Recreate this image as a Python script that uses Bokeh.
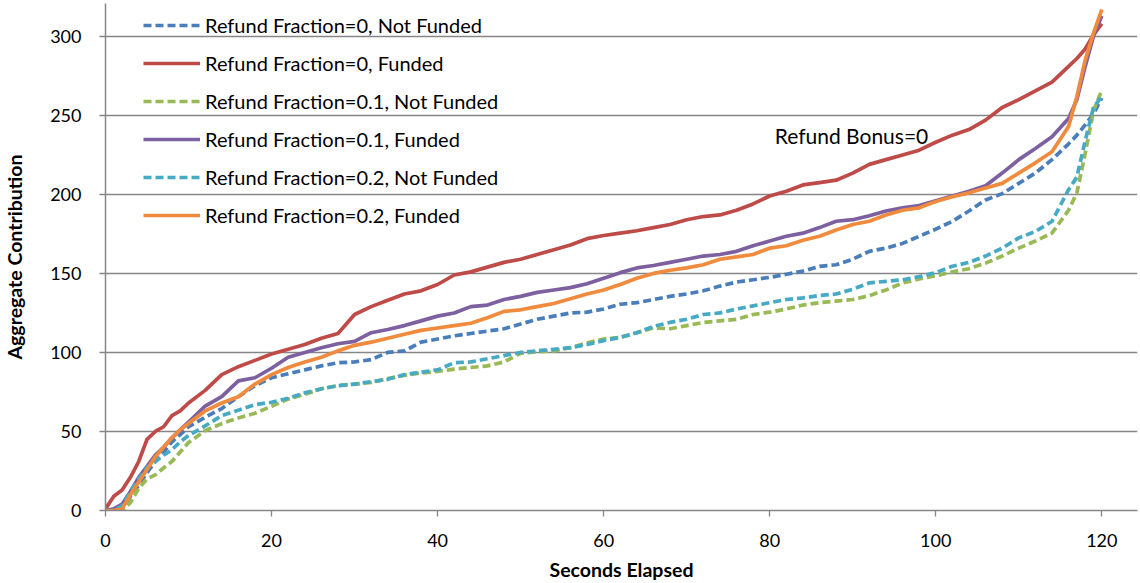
from bokeh.plotting import figure
from bokeh.models import Legend, LegendItem, Label, FixedTicker, Range1d
from bokeh.embed import file_html
from bokeh.resources import INLINE

seconds = [0, 1, 2, 3, 4, 5, 6, 7, 8, 9, 10,
           12, 14, 16, 18, 20, 22, 24, 26, 28, 30,
           32, 34, 36, 38, 40, 42, 44, 46, 48, 50,
           52, 54, 56, 58, 60, 62, 64, 66, 68, 70,
           72, 74, 76, 78, 80, 82, 84, 86, 88, 90,
           92, 94, 96, 98, 100, 102, 104, 106, 108, 110,
           112, 114, 116, 117, 118, 119, 120]

rf0_not_funded = [0, 0, 2, 9, 16, 24, 31, 37, 43.5, 48, 53,
                  59, 64.5, 72, 79, 84, 86.5, 89, 91.5, 93.5, 94,
                  95.5, 100, 101, 106.5, 108.5, 110.5, 112, 113.5, 115, 118,
                  121, 123, 125, 125.5, 127.5, 130.5, 131.5, 133.5, 135.5, 137,
                  139, 142, 144.5, 146, 147.5, 149.5, 151.5, 154.5, 155.5, 159,
                  164, 166, 169, 173.5, 178, 183, 189.5, 196.5, 200.5, 207,
                  213.5, 222, 232, 237.5, 244, 251, 261]

rf0_funded = [1, 9, 13, 21, 31, 45, 50, 53, 60, 63, 68,
              76, 86, 91, 95, 99, 102, 105, 109, 112, 124,
              129, 133, 137, 139, 143, 149, 151, 154, 157, 159,
              162, 165, 168, 172, 174, 175.5, 177, 179, 181, 184,
              186, 187, 190, 194, 199, 202, 206, 207.5, 209, 213.5,
              219, 222, 225, 228, 233, 237.5, 241, 247, 255, 260,
              265.5, 271, 281, 286, 292, 301, 308]

rf01_not_funded = [0, 0, 0, 5, 14, 20, 22.5, 27, 31, 37, 43,
                   50.5, 55, 58.5, 61.5, 66, 70.5, 73.5, 77, 79, 80,
                   81, 83.5, 85.5, 87, 88, 89.5, 90.5, 91.5, 94, 99.5,
                   100.5, 101, 103, 106, 108.5, 109.5, 112.5, 115.5, 115, 117,
                   119, 120, 121, 124, 125.5, 127.5, 130, 131.5, 132.5, 133.5,
                   136, 139.5, 144, 146.5, 148.5, 151, 153, 156.5, 161, 166,
                   170.5, 175.5, 190, 201, 226, 253, 266]

rf01_funded = [0, 1, 4, 12, 21, 28, 35, 40, 46, 51, 56,
               66, 72, 82, 84, 90, 97, 100, 103, 105.5, 107,
               112.5, 114.5, 117, 120, 123, 125, 129, 130, 133.5, 135.5,
               138, 139.5, 141, 143.5, 147, 150.5, 153.5, 155, 157, 159,
               161, 162, 164, 167.5, 170.5, 173.5, 175.5, 179, 183, 184,
               186.5, 189.5, 191.5, 193, 196, 199, 202, 205.5, 213.5, 222,
               229, 236.5, 248, 260, 281, 300, 313]

rf02_not_funded = [0, 0, 3, 12, 20, 27.5, 31, 35, 38.5, 43.5, 47.5,
                   53.5, 60, 63.5, 67, 68.5, 71, 74.5, 77, 79, 80,
                   81.5, 83, 86, 87.5, 89, 93.5, 94, 96, 98, 100,
                   101, 102, 103, 105, 107.5, 109.5, 112.5, 116.5, 119, 121,
                   124, 125, 127.5, 129.5, 131.5, 133.5, 134.5, 136, 137, 140,
                   144, 145, 146, 148, 150.5, 154.5, 157, 161, 166, 172.5,
                   176.5, 183, 203, 211, 234, 255, 262]

rf02_funded = [0, 0, 1, 10, 18, 26, 34, 40, 46, 51, 55,
               63, 68, 72, 80, 86, 90.5, 94, 97, 101, 104.5,
               106.5, 109, 111.5, 114, 115.5, 117, 118.5, 122, 126, 127,
               129, 131, 134, 137, 139.5, 143, 147, 150, 152, 153.5,
               155.5, 159, 160.5, 162, 166, 167.5, 171, 173.5, 177.5, 181,
               183, 187, 190, 191.5, 195.5, 198.5, 201, 204, 207, 213.5,
               220, 227, 243, 262, 285, 302, 317]

series_labels = ["Refund Fraction=0, Not Funded", "Refund Fraction=0, Funded",
                 "Refund Fraction=0.1, Not Funded", "Refund Fraction=0.1, Funded",
                 "Refund Fraction=0.2, Not Funded", "Refund Fraction=0.2, Funded"]
series_values = [rf0_not_funded, rf0_funded, rf01_not_funded, rf01_funded,
                 rf02_not_funded, rf02_funded]
series_colors = ["#4A7EBB", "#BE4B48", "#98B954", "#7D60A0", "#46AAC5", "#F08A3C"]
series_dashed = [True, False, True, False, True, False]

x_ticks = [0, 20, 40, 60, 80, 100, 120]
y_ticks = [0, 50, 100, 150, 200, 250, 300]

FONT = "Lato"
AXIS_GRAY = "#868686"

p = figure(width=1140, height=583, output_backend="svg", toolbar_location=None,
           x_range=Range1d(0, 124.3), y_range=Range1d(0, 320.8),
           min_border_left=103, min_border_right=3, min_border_top=3,
           min_border_bottom=71)
p.outline_line_color = None
p.background_fill_color = "white"

items = []
for lab, vals, col, dashed in zip(series_labels, series_values, series_colors, series_dashed):
    r = p.line(seconds, vals, line_color=col, line_width=3.7,
               line_dash="8 4" if dashed else "solid", line_join="round")
    items.append(LegendItem(label=lab, renderers=[r]))

legend = Legend(items=items, location=(38, 283), margin=0, padding=0,
                glyph_width=57, glyph_height=20, label_height=20, spacing=14,
                label_standoff=5, label_text_font=FONT, label_text_font_size="20px",
                label_text_color="#000000",
                background_fill_alpha=0, border_line_alpha=0)
p.add_layout(legend)

p.add_layout(Label(x=80.6, y=237, text="Refund Bonus=0", text_font=FONT,
                   text_font_size="21px", text_baseline="middle", text_color="#000000"))

p.xaxis.ticker = FixedTicker(ticks=x_ticks)
p.yaxis.ticker = FixedTicker(ticks=y_ticks)
p.xgrid.visible = False
p.ygrid.grid_line_color = AXIS_GRAY
p.ygrid.grid_line_width = 1.3

for ax in (p.xaxis[0], p.yaxis[0]):
    ax.axis_line_color = AXIS_GRAY
    ax.axis_line_width = 1.5
    ax.major_tick_line_color = AXIS_GRAY
    ax.major_tick_line_width = 1.3
    ax.minor_tick_line_color = None
    ax.major_tick_in = 0
    ax.major_tick_out = 6
    ax.major_label_text_font = FONT
    ax.major_label_text_font_size = "18px"
    ax.major_label_text_color = "#000000"
    ax.axis_label_text_font = FONT
    ax.axis_label_text_font_style = "bold"
    ax.axis_label_text_font_size = "19.5px"
    ax.axis_label_text_color = "#000000"

p.xaxis.axis_label = "Seconds Elapsed"
p.yaxis.axis_label = "Aggregate Contribution"
p.xaxis.major_label_standoff = 17
p.yaxis.major_label_standoff = 18
p.xaxis.axis_label_standoff = 8
p.yaxis.axis_label_standoff = 21

open("out.html", "w").write(file_html(p, INLINE))
